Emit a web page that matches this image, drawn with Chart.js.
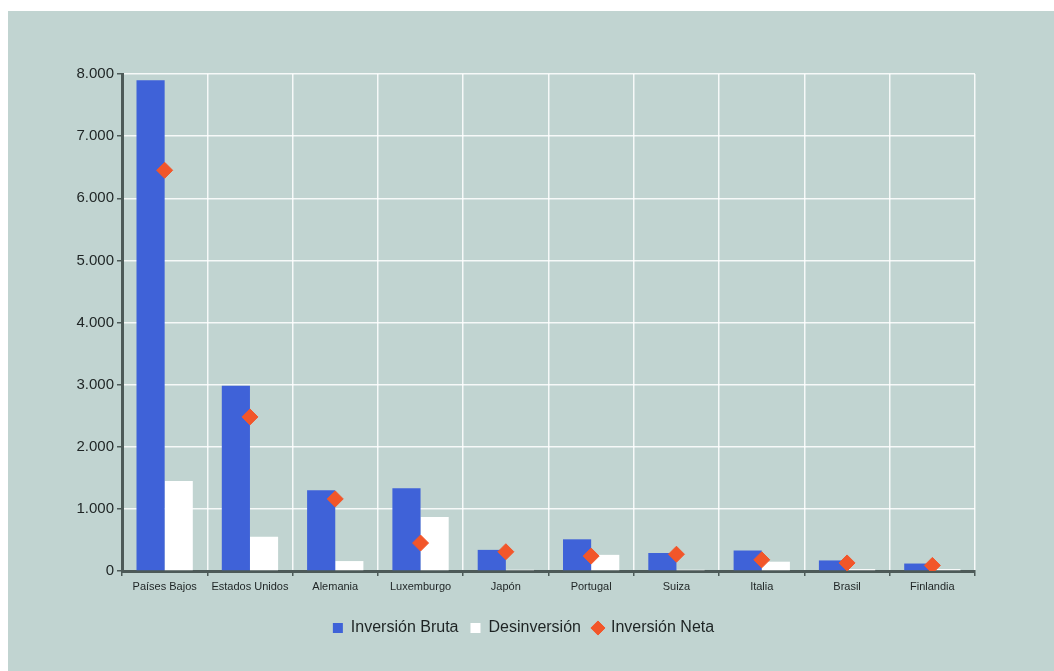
<!DOCTYPE html>
<html>
<head>
<meta charset="utf-8">
<title>Inversión por país</title>
<script src="https://cdn.jsdelivr.net/npm/chart.js@4"></script>
<style>
  html, body { margin: 0; padding: 0; background: #ffffff; }
  #wrap {
    position: absolute;
    left: 8px;
    top: 11px;
    width: 1046px;
    height: 660px;
    background: #c1d4d1;
  }
</style>
</head>
<body>
<div id="wrap"><canvas id="chart" width="1046" height="660"></canvas></div>
<script>
const paises = ["Países Bajos", "Estados Unidos", "Alemania", "Luxemburgo", "Japón",
  "Portugal", "Suiza", "Italia", "Brasil", "Finlandia"];
const inversionBruta = [7900, 2980, 1300, 1330, 340, 510, 290, 330, 170, 120];
const desinversion = [1450, 550, 160, 870, 20, 260, 20, 150, 30, 30];
const inversionNeta = [6450, 2480, 1160, 450, 310, 240, 270, 180, 130, 90];
const yTicks = [0, 1000, 2000, 3000, 4000, 5000, 6000, 7000, 8000];

const miles = v => String(v).replace(/\B(?=(\d{3})+(?!\d))/g, ".");

const ctx = document.getElementById("chart").getContext("2d");

new Chart(ctx, {
  type: "bar",
  data: {
    labels: paises,
    datasets: [
      {
        label: "Inversión Neta",
        type: "line",
        data: inversionNeta,
        showLine: false,
        pointStyle: "rectRot",
        pointRadius: 8,
        pointHoverRadius: 8,
        backgroundColor: "#f2562a",
        borderColor: "#f2562a",
        borderWidth: 1,
        order: 0
      },
      {
        label: "Inversión Bruta",
        data: inversionBruta,
        backgroundColor: "#3f62d8",
        pointStyle: "rect",
        order: 1
      },
      {
        label: "Desinversión",
        data: desinversion,
        backgroundColor: "#ffffff",
        pointStyle: "rect",
        order: 2
      }
    ]
  },
  options: {
    responsive: false,
    animation: false,
    layout: { padding: { top: 63, right: 15, bottom: 25, left: 0 } },
    datasets: {
      bar: { categoryPercentage: 0.66, barPercentage: 1.0 }
    },
    scales: {
      x: {
        grid: {
          offset: true,
          color: "rgba(255,255,255,0.85)",
          lineWidth: 1.5,
          tickColor: "#4d5a58",
          tickLength: 5
        },
        border: { color: "#4d5a58", width: 3 },
        ticks: {
          color: "#1e2424",
          font: { family: "Liberation Sans", size: 11 },
          padding: 4,
          maxRotation: 0
        },
        afterFit: scale => { scale.height = 37; }
      },
      y: {
        min: 0,
        max: 8000,
        afterBuildTicks: scale => { scale.ticks = yTicks.map(v => ({ value: v })); },
        grid: {
          color: "rgba(255,255,255,0.85)",
          lineWidth: 1.5,
          tickColor: "#4d5a58",
          tickLength: 5
        },
        border: { color: "#4d5a58", width: 3 },
        ticks: {
          color: "#1e2424",
          font: { family: "Liberation Sans", size: 15 },
          padding: 3,
          callback: v => miles(v)
        },
        afterFit: scale => { scale.width = 114; }
      },
      // empty axis on the right keeps the plot narrower than the legend band
      margen: {
        position: "right",
        grid: { display: false },
        border: { display: false },
        ticks: { display: false },
        afterFit: scale => { scale.width = 64; }
      }
    },
    plugins: {
      tooltip: { enabled: false },
      legend: {
        position: "bottom",
        labels: {
          usePointStyle: true,
          boxWidth: 10,
          boxHeight: 10,
          padding: 12,
          color: "#1e2424",
          font: { family: "Liberation Sans", size: 16 },
          filter: item => true,
          sort: (a, b) => [1, 2, 0].indexOf(a.datasetIndex) - [1, 2, 0].indexOf(b.datasetIndex)
        }
      }
    }
  }
});
</script>
</body>
</html>
